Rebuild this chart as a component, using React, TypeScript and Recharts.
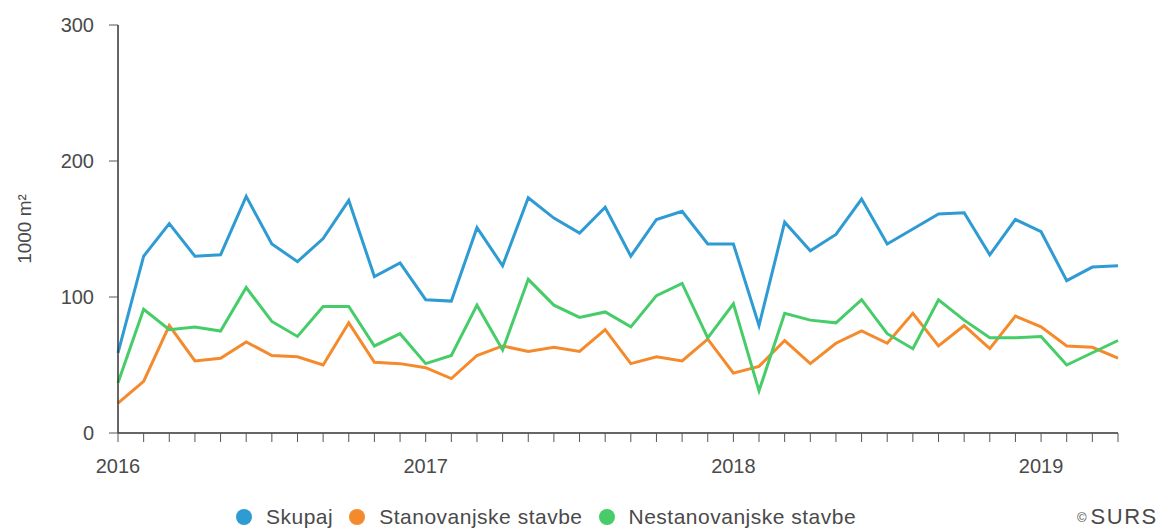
import React from 'react';
import { LineChart, Line, XAxis, YAxis } from 'recharts';

const yearLabels = ['2016', '2017', '2018', '2019'];
const monthsPerYear = 12;

const skupaj = [59, 130, 154, 130, 131, 174, 139, 126, 143, 171, 115, 125, 98, 97, 151, 123, 173, 158, 147, 166, 130, 157, 163, 139, 139, 79, 155, 134, 146, 172, 139, 150, 161, 162, 131, 157, 148, 112, 122, 123];
const stanovanjske = [22, 38, 79, 53, 55, 67, 57, 56, 50, 81, 52, 51, 48, 40, 57, 64, 60, 63, 60, 76, 51, 56, 53, 69, 44, 49, 68, 51, 66, 75, 66, 88, 64, 79, 62, 86, 78, 64, 63, 55];
const nestanovanjske = [37, 91, 76, 78, 75, 107, 82, 71, 93, 93, 64, 73, 51, 57, 94, 61, 113, 94, 85, 89, 78, 101, 110, 70, 95, 31, 88, 83, 81, 98, 73, 62, 98, 83, 70, 70, 71, 50, 59, 68];

const yTicks = [0, 100, 200, 300];

const series = [
  { key: 'skupaj', name: 'Skupaj', color: '#2e9bd3' },
  { key: 'stanovanjske', name: 'Stanovanjske stavbe', color: '#f48a2b' },
  { key: 'nestanovanjske', name: 'Nestanovanjske stavbe', color: '#46cd69' },
];

const data = skupaj.map((v, i) => ({
  idx: i,
  skupaj: v,
  stanovanjske: stanovanjske[i],
  nestanovanjske: nestanovanjske[i],
}));

const xTicks = data.map((d) => d.idx);

const FONT = '"Liberation Sans", Arial, sans-serif';

const XTick = (props: any) => {
  const { x, y, payload } = props;
  const v = payload.value as number;
  if (v % monthsPerYear !== 0) return <g />;
  const label = yearLabels[v / monthsPerYear];
  return (
    <text x={x} y={y + 29} textAnchor="middle" fill="#4a4a4a" fontSize={20} fontFamily={FONT}>
      {label}
    </text>
  );
};

const YLabel = (props: any) => {
  const { viewBox } = props;
  const cx = 24;
  const cy = viewBox.y + viewBox.height / 2;
  return (
    <text
      x={cx}
      y={cy}
      transform={`rotate(-90, ${cx}, ${cy})`}
      textAnchor="middle"
      dominantBaseline="central"
      fill="#4a4a4a"
      fontSize={19}
      fontFamily={FONT}
    >
      1000 m²
    </text>
  );
};

export default function App() {
  return (
    <div style={{ position: 'absolute', left: 0, top: 0, width: 1163, height: 528, background: '#fff' }}>
      <LineChart
        width={1163}
        height={528}
        data={data}
        margin={{ top: 25, right: 45, bottom: 0, left: 0 }}
      >
        <XAxis
          dataKey="idx"
          type="number"
          domain={[0, data.length - 1]}
          ticks={xTicks}
          interval={0}
          height={95}
          tick={<XTick />}
          tickSize={9}
          axisLine={{ stroke: '#333', strokeWidth: 1.5 }}
          tickLine={{ stroke: '#555', strokeWidth: 1 }}
        />
        <YAxis
          type="number"
          domain={[0, 300]}
          ticks={yTicks}
          width={118}
          tickSize={9}
          tickMargin={15}
          axisLine={{ stroke: '#333', strokeWidth: 1.5 }}
          tickLine={{ stroke: '#555', strokeWidth: 1 }}
          tick={{ fill: '#4a4a4a', fontSize: 20, fontFamily: FONT }}
          label={<YLabel />}
        />
        {series.map((s) => (
          <Line
            key={s.key}
            dataKey={s.key}
            name={s.name}
            stroke={s.color}
            strokeWidth={3}
            dot={false}
            activeDot={false}
            type="linear"
            isAnimationActive={false}
          />
        ))}
      </LineChart>
      <div
        style={{
          position: 'absolute',
          left: 236,
          top: 503,
          height: 28,
          display: 'flex',
          alignItems: 'center',
          fontFamily: FONT,
          fontSize: 21,
          letterSpacing: 0.5,
          color: '#4a4a4a',
          whiteSpace: 'nowrap',
        }}
      >
        {series.map((s, i) => (
          <div key={s.key} style={{ display: 'flex', alignItems: 'center', marginRight: i < series.length - 1 ? 16 : 0 }}>
            <span
              style={{
                display: 'inline-block',
                width: 16,
                height: 16,
                borderRadius: '50%',
                background: s.color,
                marginRight: 14,
              }}
            />
            <span>{s.name}</span>
          </div>
        ))}
      </div>
      <div
        style={{
          position: 'absolute',
          left: 1077,
          top: 503,
          height: 28,
          display: 'flex',
          alignItems: 'center',
          fontFamily: FONT,
          color: '#4a4a4a',
          whiteSpace: 'nowrap',
        }}
      >
        <span style={{ fontSize: 13, marginRight: 4 }}>©</span>
        <span style={{ fontSize: 22, letterSpacing: 1.5 }}>SURS</span>
      </div>
    </div>
  );
}
